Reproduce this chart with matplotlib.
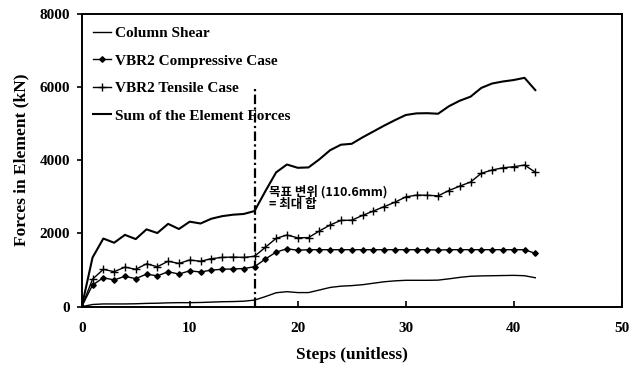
import numpy as np
import matplotlib
matplotlib.use('Agg')
import matplotlib.pyplot as plt

# Data
steps = np.arange(0, 43)

column_shear = [0, 60, 75, 75, 75, 80, 90, 95, 105, 110, 110, 115, 125, 135, 140, 150,
                180, 275, 380, 410, 385, 385, 455, 525, 560, 575, 600, 640, 680, 705,
                720, 720, 720, 725, 760, 800, 830, 840, 845, 850, 855, 845, 790]

vbr2_compressive = [0, 590, 790, 730, 830, 765, 890, 840, 955, 890, 980, 945, 1000, 1020,
                    1030, 1040, 1090, 1300, 1490, 1580, 1540, 1555, 1555, 1555, 1555, 1555,
                    1555, 1555, 1555, 1555, 1555, 1555, 1555, 1545, 1555, 1555, 1555, 1555,
                    1555, 1555, 1555, 1555, 1455]

vbr2_tensile = [0, 750, 1020, 955, 1080, 1020, 1170, 1090, 1240, 1180, 1275, 1240, 1310,
                1345, 1355, 1345, 1375, 1620, 1865, 1955, 1880, 1885, 2065, 2230, 2355,
                2360, 2490, 2610, 2730, 2850, 2995, 3045, 3040, 3025, 3170, 3290, 3400,
                3640, 3730, 3790, 3820, 3865, 3670]

sum_forces = [0, 1340, 1860, 1745, 1960, 1845, 2110, 2010, 2260, 2120, 2320, 2270, 2400,
              2470, 2510, 2530, 2610, 3150, 3665, 3880, 3790, 3800, 4020, 4270, 4420, 4445,
              4620, 4780, 4940, 5090, 5230, 5275, 5280, 5265, 5470, 5620, 5730, 5970, 6090,
              6145, 6185, 6245, 5910]

target_step = 16
target_top = 6000
note = '목표 변위 (110.6mm)\n= 최대 합'

plt.rcParams['font.family'] = ['Liberation Serif', 'DejaVu Serif']
plt.rcParams['font.weight'] = 'bold'

fig = plt.figure(figsize=(6.42, 3.70), dpi=100)
ax = fig.add_axes([0.1273, 0.1711, 0.8411, 0.7924])

ax.plot(steps, column_shear, color='black', lw=1.0, label='Column Shear')
ax.plot(steps, vbr2_compressive, color='black', lw=1.0, marker='D', ms=2.8,
        markerfacecolor='black', label='VBR2 Compressive Case')
ax.plot(steps, vbr2_tensile, color='black', lw=1.0, marker='+', ms=5.5, mew=1.0,
        label='VBR2 Tensile Case')
ax.plot(steps, sum_forces, color='black', lw=1.5, label='Sum of the Element Forces')

# target displacement marker
ax.plot([target_step, target_step], [0, target_top], color='black', lw=1.6,
        dashes=(4.3, 1.5, 1, 1.5))
ax.text(17.35, 3330, note, family=['Noto Sans CJK KR', 'DejaVu Sans'],
        fontsize=9, fontweight='bold', va='top', ha='left', linespacing=1.0)

ax.set_xlim(0, 50)
ax.set_ylim(0, 8000)
ax.set_xticks([0, 10, 20, 30, 40, 50])
ax.set_yticks([0, 2000, 4000, 6000, 8000])
ax.tick_params(axis='x', direction='in', length=4, width=1.2, pad=11, labelsize=11)
ax.tick_params(axis='y', direction='out', length=3.5, width=1.2, pad=5, labelsize=11)
for s in ax.spines.values():
    s.set_linewidth(1.4)

ax.set_xlabel('Steps (unitless)', fontsize=12.5, fontweight='bold', labelpad=9)
ax.set_ylabel('Forces in Element (kN)', fontsize=12.5, fontweight='bold', labelpad=7)

ax.legend(loc='upper left', bbox_to_anchor=(0.02, 0.955), frameon=False,
          fontsize=11, handlelength=1.2, handletextpad=0.25, labelspacing=0.9,
          borderpad=0, borderaxespad=0, numpoints=1)

plt.savefig('out.png', dpi=100)
